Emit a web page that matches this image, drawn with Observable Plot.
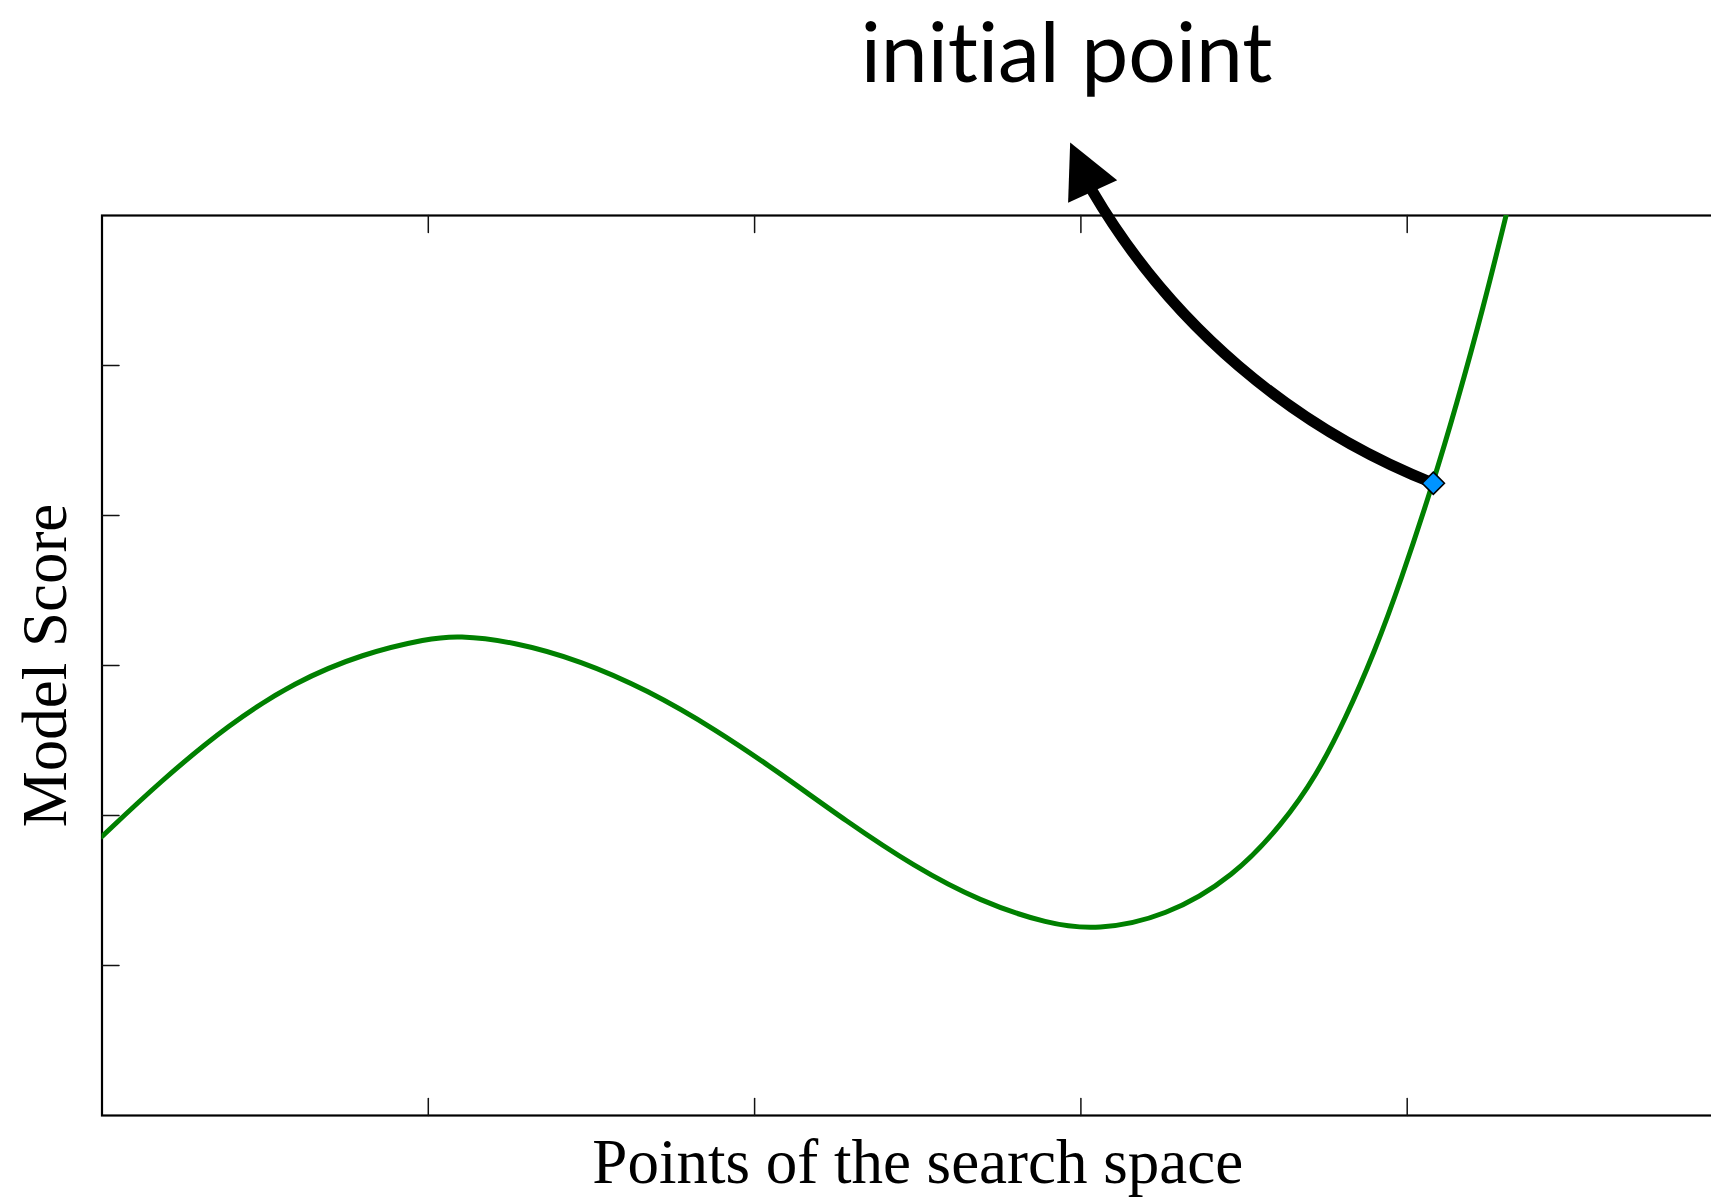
<!DOCTYPE html>
<html>
<head>
<meta charset="utf-8">
<script src="https://cdn.jsdelivr.net/npm/d3@7"></script>
<script src="https://cdn.jsdelivr.net/npm/@observablehq/plot@0.6"></script>
<style>
  html, body { margin: 0; padding: 0; background: #fff; overflow: hidden; }
  svg text { font-variant-ligatures: none; font-feature-settings: "liga" 0, "clig" 0; }
</style>
</head>
<body>
<div id="chart"></div>
<script>
// ---- data ----
const curveX = [0, 0.18, 0.39, 0.59, 0.80, 1.00, 1.09, 1.26, 1.47, 1.67, 1.88, 2.08, 2.28, 2.49, 2.69, 2.90, 3.05, 3.26, 3.47, 3.62, 3.72, 3.81, 3.90, 3.98, 4.08, 4.15, 4.235, 4.303];
const curveY = [1.86, 2.23, 2.61, 2.89, 3.08, 3.18, 3.20, 3.16, 3.03, 2.838, 2.575, 2.279, 1.963, 1.658, 1.428, 1.275, 1.235, 1.325, 1.594, 1.95, 2.26, 2.64, 3.09, 3.56, 4.22, 4.73, 5.40, 6.0];
const xTicks = [1, 2, 3, 4];
const yTicks = [1, 2, 3, 4, 5];
const xDomain = [0, 5];
const yDomain = [0, 6];
const initialPoint = [{x: 4.08, y: 4.215}];
const arrowHeadBase = [{x: 3.036, y: 6.16}];
const annotationAnchor = [{x: 2.956, y: 6.887, label: "initial point"}];
const xLabel = "Points of the search space";
const yLabel = "Model Score";

const curve = curveX.map((x, i) => ({x, y: curveY[i]}));
const arrowData = [{x1: initialPoint[0].x, y1: initialPoint[0].y, x2: arrowHeadBase[0].x, y2: arrowHeadBase[0].y}];

// inward tick shape for vectors
const tickShape = {draw(context, l) { context.moveTo(0, 0); context.lineTo(0, -l); }};
// filled arrowhead, anchored at its base midpoint, pointing up
const headShape = {draw(context) { context.moveTo(0, -54); context.lineTo(27, 0); context.lineTo(-27, 0); context.closePath(); }};

const serif = "'Liberation Serif', 'Times New Roman', Times, serif";

const chart = Plot.plot({
  width: 1711,
  height: 1197,
  marginTop: 215,
  marginBottom: 82,
  marginLeft: 101.5,
  marginRight: -22,
  style: {background: "#fff", overflow: "hidden"},
  x: {domain: xDomain, axis: null},
  y: {domain: yDomain, axis: null},
  marks: [
    Plot.frame({stroke: "#000", strokeWidth: 2.2}),
    Plot.vector(xTicks, {x: d => d, y: yDomain[0], length: 17, rotate: 0, anchor: "start", shape: tickShape, stroke: "#111", strokeWidth: 1.5}),
    Plot.vector(xTicks, {x: d => d, y: yDomain[1], length: 17, rotate: 180, anchor: "start", shape: tickShape, stroke: "#111", strokeWidth: 1.5}),
    Plot.vector(yTicks, {x: xDomain[0], y: d => d, length: 17, rotate: 90, anchor: "start", shape: tickShape, stroke: "#111", strokeWidth: 1.5}),
    Plot.line(curve, {x: "x", y: "y", stroke: "#008000", strokeWidth: 5, curve: "basis", clip: "frame"}),
    Plot.arrow(arrowData, {x1: "x1", y1: "y1", x2: "x2", y2: "y2", bend: 19, headLength: 0, stroke: "#000", strokeWidth: 11}),
    Plot.dot(arrowHeadBase, {x: "x", y: "y", symbol: headShape, rotate: -24.6, fill: "#000", stroke: "none"}),
    Plot.dot(initialPoint, {x: "x", y: "y", symbol: "diamond2", r: 10, fill: "#0094ff", stroke: "#000", strokeWidth: 1.6}),
    Plot.text(annotationAnchor, {x: "x", y: "y", text: "label", textAnchor: "middle", lineAnchor: "bottom", fontSize: 84, fontFamily: "Lato, 'Open Sans', sans-serif", fill: "#000"}),
    Plot.text([xLabel], {frameAnchor: "bottom", text: d => d, textAnchor: "middle", lineAnchor: "bottom", dy: 67, fontSize: 63, fontFamily: serif, fill: "#000"}),
    Plot.text([yLabel], {frameAnchor: "left", text: d => d, rotate: -90, textAnchor: "middle", lineAnchor: "bottom", dx: -36.5, fontSize: 63, fontFamily: serif, fill: "#000"})
  ]
});
document.getElementById("chart").appendChild(chart);
</script>
</body>
</html>
